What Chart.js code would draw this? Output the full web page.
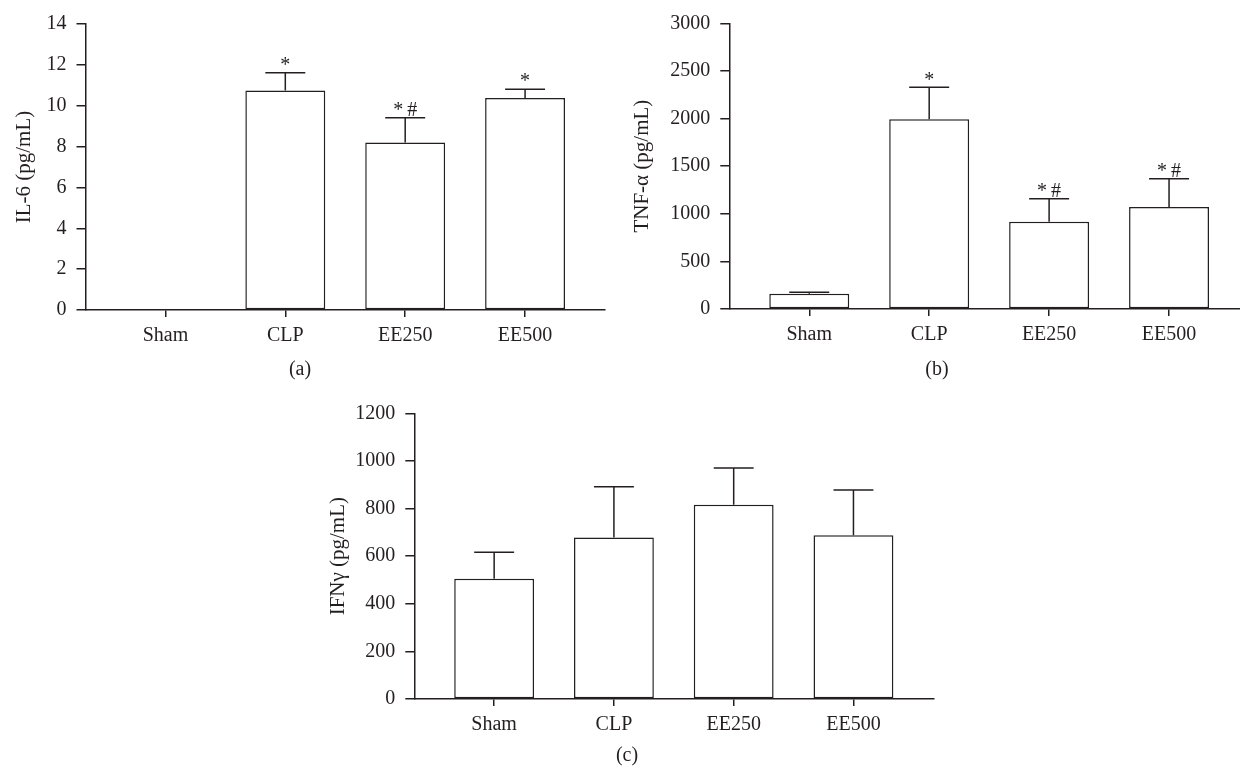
<!DOCTYPE html>
<html lang="en">
<head>
  <meta charset="UTF-8">
  <title>IL-6, TNF-α, IFNγ</title>
  <script src="https://cdn.jsdelivr.net/npm/chart.js"></script>
  <style>
    html, body {
      margin: 0;
      overflow: hidden;
      background: #fff;
    }
    body {
      position: relative;
      width: 1240px;
      height: 769px;
    }
    .panel {
      position: absolute;
    }
    #panelA { left: 0; top: 0; }
    #panelB { left: 620px; top: 0; }
    #panelC { left: 320px; top: 380px; }
  </style>
</head>
<body>
  <canvas class="panel" id="panelA" width="620" height="380"></canvas>
  <canvas class="panel" id="panelB" width="640" height="380"></canvas>
  <canvas class="panel" id="panelC" width="620" height="389"></canvas>

  <script>
    // groups on the x axis
    const categories = ['Sham', 'CLP', 'EE250', 'EE500'];

    // (a) IL-6
    const il6Mean = [0, 10.75, 8.2, 10.38];
    const il6Sem = [0, 0.86, 1.21, 0.43];
    const il6Marks = ['', '*', '*#', '*'];
    const il6Ticks = [0, 2, 4, 6, 8, 10, 12, 14];

    // (b) TNF-alpha
    const tnfMean = [161, 1992, 917, 1071];
    const tnfSem = [14, 336, 241, 297];
    const tnfMarks = ['', '*', '*#', '*#'];
    const tnfTicks = [0, 500, 1000, 1500, 2000, 2500, 3000];

    // (c) IFN-gamma
    const ifnMean = [505, 678, 816, 688];
    const ifnSem = [111, 213, 154, 190];
    const ifnMarks = ['', '', '', ''];
    const ifnTicks = [0, 200, 400, 600, 800, 1000, 1200];

    const ink = '#231f20';
    const serif = "'Liberation Serif', 'Times New Roman', serif";

    // upper error bars with cap, plus significance marks above them
    const errorBars = {
      id: 'errorBars',
      afterDatasetsDraw(chart) {
        const ctx = chart.ctx;
        const ds = chart.data.datasets[0];
        const meta = chart.getDatasetMeta(0);
        const ys = chart.scales.y;
        ctx.save();
        ctx.strokeStyle = ink;
        ctx.lineWidth = 1.5;
        ctx.fillStyle = ink;
        ctx.font = '20px ' + serif;
        ctx.textAlign = 'center';
        ctx.textBaseline = 'middle';
        meta.data.forEach((bar, i) => {
          const err = ds.sem[i];
          if (!err) return;
          const top = ys.getPixelForValue(ds.data[i].y + err);
          const half = bar.width / 4;
          ctx.beginPath();
          ctx.moveTo(bar.x, bar.y);
          ctx.lineTo(bar.x, top);
          ctx.moveTo(bar.x - half, top);
          ctx.lineTo(bar.x + half, top);
          ctx.stroke();
          if (ds.marks[i]) ctx.fillText(ds.marks[i].split('').join('\u2009'), bar.x, top - 7);
        });
        ctx.restore();
      }
    };

    // "(a)", "(b)", "(c)" under each panel
    const panelLabel = {
      id: 'panelLabel',
      afterDraw(chart, args, opts) {
        const ctx = chart.ctx;
        ctx.save();
        ctx.fillStyle = ink;
        ctx.font = '20px ' + serif;
        ctx.textAlign = 'center';
        ctx.textBaseline = 'middle';
        ctx.fillText(opts.text, opts.x, opts.y);
        ctx.restore();
      }
    };

    function makePanel(id, mean, sem, marks, yTicks, yTitle, box) {
      const ctx = document.getElementById(id).getContext('2d');
      return new Chart(ctx, {
        type: 'bar',
        data: {
          datasets: [{
            data: mean.map((v, i) => ({ x: i, y: v })),
            sem: sem,
            marks: marks,
            backgroundColor: '#fff',
            borderColor: ink,
            borderWidth: 1.5,
            borderSkipped: false,
            categoryPercentage: 1,
            barPercentage: 2 / 3
          }]
        },
        options: {
          responsive: false,
          animation: false,
          layout: {
            padding: { top: box.top, right: box.right, bottom: box.bottom, left: 0 }
          },
          plugins: {
            legend: { display: false },
            tooltip: { enabled: false },
            panelLabel: box.label
          },
          scales: {
            x: {
              type: 'linear',
              min: -2 / 3,
              max: categories.length - 1 + 2 / 3,
              offset: false,
              afterBuildTicks: (s) => { s.ticks = categories.map((c, i) => ({ value: i })); },
              afterFit: (s) => { s.height = 50; },
              ticks: {
                callback: (v) => categories[v],
                autoSkip: false,
                maxRotation: 0,
                padding: 7,
                color: ink,
                font: { family: serif, size: 20 }
              },
              grid: { offset: false, drawOnChartArea: false, tickLength: 7, color: ink, lineWidth: 1.5 },
              border: { color: ink, width: 1.5 }
            },
            y: {
              min: yTicks[0],
              max: yTicks[yTicks.length - 1],
              afterBuildTicks: (s) => { s.ticks = yTicks.map((v) => ({ value: v })); },
              afterFit: (s) => { s.width = box.left; },
              ticks: {
                callback: (v) => String(v),
                padding: 10,
                color: ink,
                font: { family: serif, size: 20 }
              },
              grid: { drawOnChartArea: false, tickLength: 9, color: ink, lineWidth: 1.5 },
              border: { color: ink, width: 1.5 },
              title: {
                display: true,
                text: yTitle,
                color: ink,
                font: { family: serif, size: 21 },
                padding: { top: box.titlePad, bottom: 0 }
              }
            }
          }
        },
        plugins: [errorBars, panelLabel]
      });
    }

    makePanel('panelA', il6Mean, il6Sem, il6Marks, il6Ticks, 'IL-6 (pg/mL)',
      { left: 85.5, top: 24, right: 15, bottom: 20, titlePad: 11.4, label: { text: '(a)', x: 300, y: 370 } });

    makePanel('panelB', tnfMean, tnfSem, tnfMarks, tnfTicks, 'TNF-α (pg/mL)',
      { left: 109.3, top: 23.3, right: 11, bottom: 21, titlePad: 9.9, label: { text: '(b)', x: 317, y: 370 } });

    makePanel('panelC', ifnMean, ifnSem, ifnMarks, ifnTicks, 'IFNγ (pg/mL)',
      { left: 94.3, top: 33.3, right: 6.7, bottom: 20, titlePad: 5.9, label: { text: '(c)', x: 307, y: 376 } });
  </script>
</body>
</html>
